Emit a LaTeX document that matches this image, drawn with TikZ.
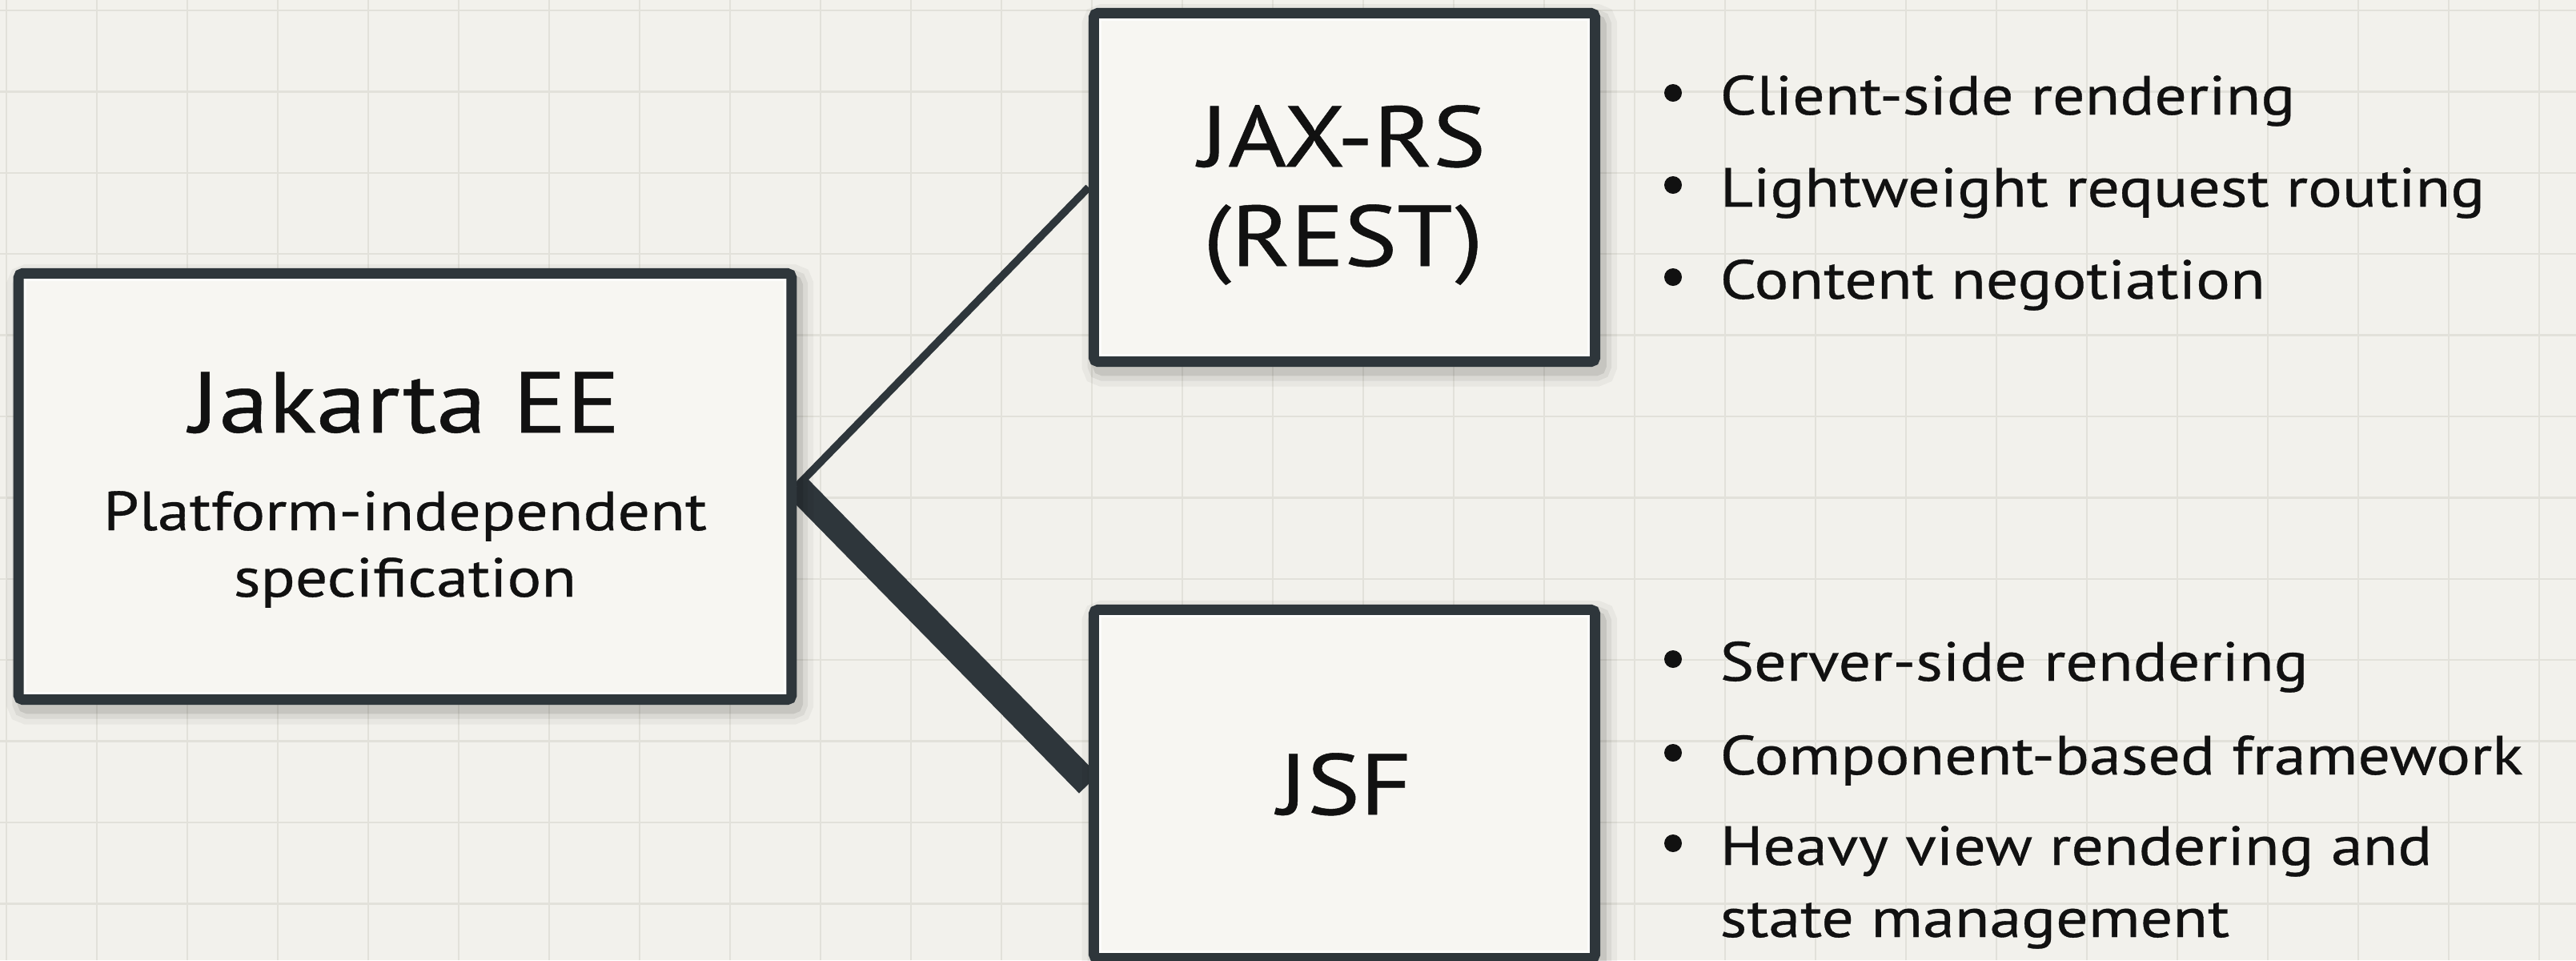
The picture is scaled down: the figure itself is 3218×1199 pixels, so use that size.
\documentclass[tikz,border=0pt]{standalone}
\usepackage{fontspec}
\setmainfont{PT Sans}[FakeStretch=1.16, FakeBold=0.5]

\definecolor{paper}{HTML}{F2F1EC}
\definecolor{gridc}{HTML}{E2E1DA}
\definecolor{ink}{HTML}{2E363B}
\definecolor{boxfill}{HTML}{F7F6F2}
\definecolor{txt}{HTML}{111111}

\pgfdeclarelayer{back}
\pgfdeclarelayer{links}
\pgfsetlayers{back,links,main}

\tikzset{
  card/.style={draw=ink, line width=3.7pt, fill=boxfill, rounded corners=1.5pt,
    inner sep=0pt,
    preaction={draw=black, draw opacity=0.04, line width=12pt, fill=none,
      transform canvas={xshift=1.8pt, yshift=-2.8pt}},
    preaction={draw=black, draw opacity=0.06, line width=8pt, fill=none,
      transform canvas={xshift=1.8pt, yshift=-2.8pt}},
    preaction={draw=black, draw opacity=0.09, line width=4.5pt, fill=none,
      transform canvas={xshift=1.8pt, yshift=-2.8pt}}},
  sidecard/.style={card, minimum width=6.26cm, minimum height=4.35cm},
  bigtitle/.style={anchor=base, inner sep=0pt, text=txt,
    font=\fontsize{30.6}{34}\selectfont},
  subtitle/.style={anchor=base, inner sep=0pt, text=txt,
    font=\fontsize{19.6}{22}\selectfont},
  item/.style={anchor=base west, inner sep=0pt, text=txt,
    font=\fontsize{19.6}{22}\selectfont},
  gridline/.style={draw=gridc, line width=0.7pt},
  thinlink/.style={draw=ink, line width=2.7pt, line cap=butt},
  thicklink/.style={draw=ink, line width=9.4pt, line cap=butt},
  dot/.style={fill=txt}
}

\begin{document}
\begin{tikzpicture}[x=0.01cm, y=-0.01cm]
  \useasboundingbox (0,0) rectangle (3218,1199);

  % paper and grid
  \begin{pgfonlayer}{back}
    \fill[paper] (0,0) rectangle (3218,1199);
    \foreach \i in {0,...,28}
      \draw[gridline] (8+113*\i,0) -- (8+113*\i,1199);
    \foreach \j in {0,...,11}
      \draw[gridline] (0,13+101.4*\j) -- (3218,13+101.4*\j);
  \end{pgfonlayer}

  % boxes
  \node[card, minimum width=9.65cm, minimum height=5.32cm] (jee) at (506,607.5) {};
  \node[sidecard] (rest) at (1679.5,234) {};
  \node[sidecard] (jsf) at (1679.5,979) {};

  % soft inner highlight along the borders
  \foreach \b in {jee,rest,jsf}
    \draw[white, opacity=0.7, line width=0.8pt]
      ([shift={(15,15)}]\b.north west) rectangle ([shift={(-15,-15)}]\b.south east);

  % connectors
  \begin{pgfonlayer}{links}
    \draw[thinlink] (jee.east) -- (rest.west);
    \draw[thicklink] (jee.east) -- (jsf.west);
  \end{pgfonlayer}

  % box texts
  \node[bigtitle] (jeetitle) at (506,540) {Jakarta EE};
  \node[subtitle] (jeesub1) at (506,662) {Platform-independent};
  \node[subtitle] (jeesub2) at (506,745) {specification};
  \node[bigtitle] (resttitle1) at (1677,208) {JAX-RS};
  \node[bigtitle] (resttitle2) at (1678,332) {(REST)};
  \node[bigtitle] (jsftitle) at (1680,1017) {JSF};

  % JAX-RS traits
  \fill[dot] (2090,116) circle[radius=0.11cm];
  \fill[dot] (2090,231) circle[radius=0.11cm];
  \fill[dot] (2090,346) circle[radius=0.11cm];
  \node[item] (r1) at (2148,143) {Client-side rendering};
  \node[item] (r2) at (2148,258) {Lightweight request routing};
  \node[item] (r3) at (2148,373) {Content negotiation};

  % JSF traits
  \fill[dot] (2090,823) circle[radius=0.11cm];
  \fill[dot] (2090,940) circle[radius=0.11cm];
  \fill[dot] (2090,1053) circle[radius=0.11cm];
  \node[item] (f1) at (2148,850) {Server-side rendering};
  \node[item] (f2) at (2148,967) {Component-based framework};
  \node[item] (f3) at (2148,1080) {Heavy view rendering and};
  \node[item] (f4) at (2148,1170) {state management};
\end{tikzpicture}
\end{document}
